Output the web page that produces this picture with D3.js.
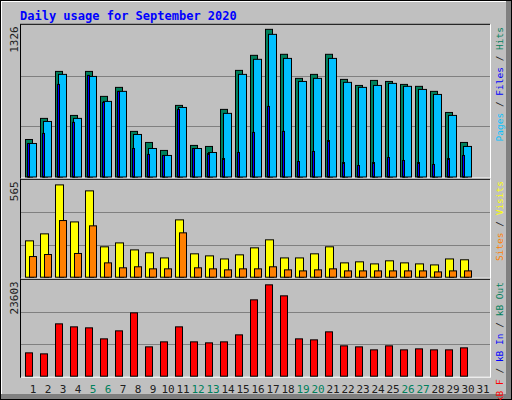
<!DOCTYPE html>
<html><head><meta charset="utf-8">
<script src="https://cdn.jsdelivr.net/npm/d3@7"></script>
<style>body{margin:0;background:#fff}</style></head>
<body><svg id="c" width="512" height="400"></svg>
<script>
const days = d3.range(1,32);
const weekend = [5,6,12,13,19,20,26,27];
const hits  = [329,514,926,540,926,707,786,400,303,233,628,277,268,593,935,1067,1295,1076,865,900,1076,856,803,847,838,812,795,751,566,303];
const files = [294,487,900,514,882,663,751,373,250,189,610,250,215,558,900,1032,1251,1040,838,865,1040,830,786,803,821,795,768,724,540,268];
const pages = [294,382,812,479,891,654,751,250,198,189,593,250,206,162,215,391,619,400,136,224,320,127,101,127,171,145,127,110,162,189];
const visits= [213,254,541,324,506,178,201,160,143,113,336,137,125,107,131,172,219,113,113,137,178,84,90,78,96,84,78,72,107,102];
const sites = [121,133,332,139,301,84,55,61,49,49,260,55,49,43,49,49,61,43,37,43,49,37,37,37,37,37,37,31,37,37];
const kbytes= [5776,5528,12953,12210,11963,9240,11220,15675,7260,8498,12210,8498,8250,8498,10230,18893,22605,19883,9240,8993,10973,7508,7260,6518,7508,6518,6765,6518,6518,7013];
const maxHits=1326, maxVisits=565, maxKB=23603;

const svg=d3.select("#c");
const font="'DejaVu Sans Mono', monospace";
svg.append("rect").attr("width",512).attr("height",400).attr("fill","#000");
svg.append("rect").attr("x",1).attr("y",1).attr("width",510).attr("height",398).attr("fill","#808080");
svg.append("rect").attr("x",1).attr("y",1).attr("width",505).attr("height",393).attr("fill","#fff");
svg.append("rect").attr("x",2).attr("y",2).attr("width",504).attr("height",392).attr("fill","#C0C0C0");

svg.append("text").attr("x",20).attr("y",20).attr("fill","#0000FF").attr("font-family",font)
  .attr("font-weight","bold").attr("font-size",12).text("Daily usage for September 2020");

const x=d3.scaleLinear().domain([1,32]).range([25,490]);
const panels=[{top:25.3,bot:176.5,max:maxHits},{top:180.3,bot:276.7,max:maxVisits},{top:280.3,bot:375.7,max:maxKB}];
panels.forEach((p,i)=>{
  p.y=d3.scaleLinear().domain([0,p.max]).range([p.bot,p.top]);
  svg.append("line").attr("x1",20).attr("x2",490).attr("y1",p.top-1).attr("y2",p.top-1).attr("stroke","#000");
  svg.append("line").attr("x1",20).attr("x2",490).attr("y1",p.bot+1.5).attr("y2",p.bot+1.5).attr("stroke","#fff");
  svg.append("line").attr("x1",20.5).attr("x2",20.5).attr("y1",p.top-1).attr("y2",p.bot+2).attr("stroke","#000");
  svg.append("line").attr("x1",490.5).attr("x2",490.5).attr("y1",p.top-1).attr("y2",p.bot+2).attr("stroke","#fff");
  [1/3,2/3].forEach(f=>{
    const yy=Math.round(p.y(p.max*f))+0.5;
    svg.append("line").attr("x1",21).attr("x2",490).attr("y1",yy).attr("y2",yy).attr("stroke","#808080");
  });
  svg.append("text").attr("transform",`translate(18,${p.top+1}) rotate(-90)`).attr("text-anchor","end")
    .attr("font-family",font).attr("font-size",11).attr("fill","#202020").text(p.max);
});
function bars(data,p,dx,w,fill){
  svg.append("g").selectAll("rect").data(data).join("rect")
    .attr("x",(d,i)=>x(i+1)+dx+0.5).attr("y",d=>p.y(d)+0.5).attr("width",w).attr("height",d=>p.bot-p.y(d))
    .attr("fill",fill).attr("stroke","#000").attr("stroke-width",1);
}
bars(hits,panels[0],0,7,"#00805C");
bars(files,panels[0],3,8,"#00C0FF");
bars(pages,panels[0],2,2,"#0000FF");
bars(visits,panels[1],0,8,"#FFFF00");
bars(sites,panels[1],4,7,"#FF8000");
bars(kbytes,panels[2],0,7,"#FF0000");

svg.append("g").selectAll("text").data(days).join("text")
  .attr("x",d=>x(d)+8).attr("y",393).attr("text-anchor","middle").attr("font-family",font).attr("font-size",11)
  .attr("fill",d=>weekend.includes(d)?"#00805C":"#202020").text(d=>d);

function legend(y,parts){
  const t=svg.append("text").attr("transform",`translate(503,${y}) rotate(-90)`).attr("text-anchor","end")
    .attr("font-family",font).attr("font-size",9.5);
  parts.forEach(([s,c])=>t.append("tspan").attr("fill",c).text(s));
}
legend(27,[["Pages","#00C0FF"],[" / ","#202020"],["Files","#0000FF"],[" / ","#202020"],["Hits","#00805C"]]);
legend(181,[["Sites","#FF8000"],[" / ","#202020"],["Visits","#FFFF00"]]);
legend(282,[["kB F","#FF0000"],[" / ","#202020"],["kB In","#0000FF"],[" / ","#202020"],["kB Out","#00805C"]]);
</script></body></html>
